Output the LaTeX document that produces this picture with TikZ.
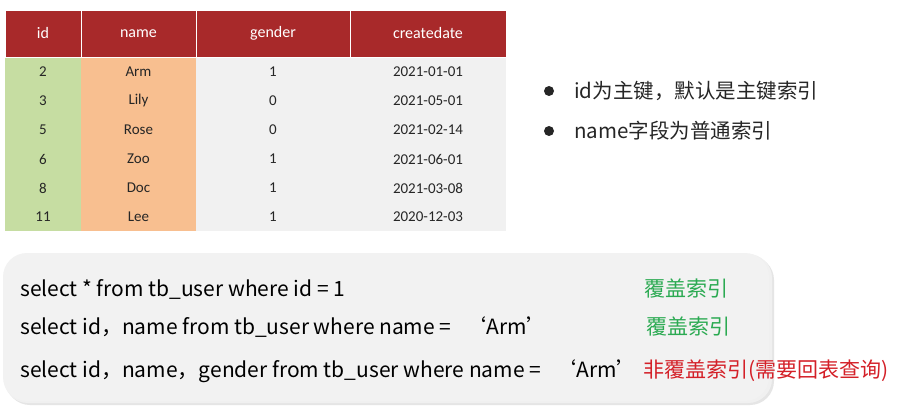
\documentclass[tikz,border=0pt]{standalone}
\usepackage{fontspec}
\setmainfont{Carlito}
\newfontfamily\cjk{Noto Sans CJK SC}
\definecolor{hdr}{HTML}{A8292A}
\definecolor{idg}{HTML}{C6DDA2}
\definecolor{nmo}{HTML}{F8BF90}
\definecolor{cellg}{HTML}{F1F1F1}
\definecolor{boxg}{HTML}{F2F2F2}
\definecolor{okgreen}{HTML}{2BAA52}
\definecolor{badred}{HTML}{D42028}
\definecolor{txt}{HTML}{262626}
\tikzset{
  hcell/.style={fill=hdr, draw=white, line width=0.8pt, text=white, font=\fontsize{16}{18}\selectfont, inner sep=0pt},
  dcell/.style={text=txt, font=\fontsize{15}{17}\selectfont, inner sep=0pt},
  bul/.style={circle, fill=txt, inner sep=0pt, minimum size=10pt},
  btxt/.style={anchor=west, text=txt, font=\cjk\fontsize{20.5}{22}\selectfont, inner sep=0pt},
  sql/.style={anchor=base west, text=black, font=\cjk\fontsize{21}{23}\selectfont, inner sep=0pt},
  tag/.style={anchor=base west, font=\cjk\fontsize{21}{23}\selectfont, inner sep=0pt},
}
\begin{document}
\begin{tikzpicture}[x=1pt,y=-1pt]
\useasboundingbox[fill=white] (0,0) rectangle (899,409);
% column backgrounds
\fill[idg] (5,57) rectangle (81,231);
\fill[nmo] (81,57) rectangle (196,231);
\fill[cellg] (196,57) rectangle (506,231);
% header
\node[hcell, minimum width=76pt, minimum height=47pt] (hid) at (43,33.5) {id};
\node[hcell, minimum width=115pt, minimum height=47pt] (hname) at (138.5,33.5) {name};
\node[hcell, minimum width=154pt, minimum height=47pt] (hgender) at (273,33.5) {gender};
\node[hcell, minimum width=156pt, minimum height=47pt] (hdate) at (428,33.5) {createdate};
% rows
\foreach \i/\id/\nm/\g/\d in {0/2/Arm/1/2021-01-01,1/3/Lily/0/2021-05-01,2/5/Rose/0/2021-02-14,3/6/Zoo/1/2021-06-01,4/8/Doc/1/2021-03-08,5/11/Lee/1/2020-12-03}{
  \node[dcell] (id\i) at (43,72+29*\i) {\id};
  \node[dcell] (nm\i) at (138.5,72+29*\i) {\nm};
  \node[dcell] (g\i) at (273,72+29*\i) {\g};
  \node[dcell] (d\i) at (428,72+29*\i) {\d};
}
% bullets
\node[bul] (b1) at (549,91) {};
\node[btxt] (t1) at (574,91) {id为主键，默认是主键索引};
\node[bul] (b2) at (549,131) {};
\node[btxt] (t2) at (574,131) {name字段为普通索引};
% sql box
\fill[black!10, rounded corners=24pt] (6,256) rectangle (774,405);
\fill[black!6, rounded corners=24pt] (4,254) rectangle (772,403);
\fill[boxg, rounded corners=24pt] (3,253) rectangle (769,401);
\node[sql] (q1) at (20,296) {select * from tb\_user where id = 1};
\node[sql] (q2) at (20,334) {select id，name from tb\_user where name =\ \ \ ‘Arm’};
\node[sql] (q3) at (20,377) {select id，name，gender from tb\_user where name =\ \ \ ‘Arm’};
\node[tag, text=okgreen] (c1) at (644,296) {覆盖索引};
\node[tag, text=okgreen] (c2) at (646,334) {覆盖索引};
\node[tag, text=badred] (c3) at (643,377) {非覆盖索引(需要回表查询)};
\end{tikzpicture}
\end{document}
